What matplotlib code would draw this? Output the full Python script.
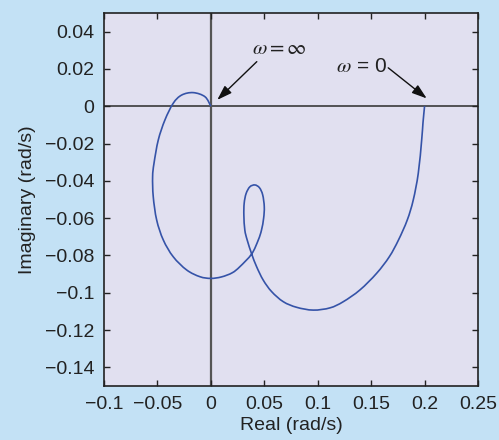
import matplotlib
matplotlib.use("Agg")
import matplotlib.pyplot as plt
from matplotlib.path import Path
from matplotlib.patches import PathPatch

plt.rcParams['font.family'] = ['Liberation Sans', 'DejaVu Sans']
plt.rcParams['mathtext.fontset'] = 'stix'

# Nyquist curve, ordered from omega=0 to omega=inf
real_part = [0.200, 0.1985, 0.1973, 0.1941, 0.1894, 0.1838, 0.1756, 0.1670, 0.1551, 0.1395,
             0.1239, 0.1115, 0.0958, 0.0803, 0.0678, 0.0569, 0.0490, 0.0428, 0.0382, 0.0340,
             0.0318, 0.0309, 0.0312, 0.033, 0.0365, 0.0412, 0.0455, 0.0485, 0.0500, 0.0494,
             0.0474, 0.0444, 0.0382, 0.0272, 0.020, 0.010, 0.000, -0.0102, -0.0226, -0.0352,
             -0.0445, -0.0507, -0.0539, -0.0545, -0.0532, -0.0492, -0.0430, -0.0352, -0.0273,
             -0.0165, -0.0055, 0.000]
imag_part = [0.000, -0.009, -0.0181, -0.0360, -0.0503, -0.0610, -0.0717, -0.0807, -0.0896, -0.0985,
             -0.1048, -0.1081, -0.1093, -0.1078, -0.1048, -0.0994, -0.0932, -0.0860, -0.0792, -0.0717,
             -0.0664, -0.0585, -0.052, -0.0468, -0.0432, -0.0422, -0.0437, -0.0475, -0.0539, -0.0600,
             -0.0664, -0.0717, -0.0792, -0.0860, -0.0893, -0.0915, -0.0923, -0.0914, -0.0878, -0.0807,
             -0.0717, -0.0610, -0.0485, -0.0378, -0.0306, -0.0181, -0.0074, 0.0016, 0.0060,
             0.0073, 0.0051, 0.000]

x_ticks = [-0.1, -0.05, 0, 0.05, 0.1, 0.15, 0.2, 0.25]
x_tick_labels = ["\u22120.1", "\u22120.05", "0", "0.05", "0.1", "0.15", "0.2", "0.25"]
y_ticks = [0.04, 0.02, 0, -0.02, -0.04, -0.06, -0.08, -0.1, -0.12, -0.14]
y_tick_labels = ["0.04", "0.02", "0", "\u22120.02", "\u22120.04", "\u22120.06", "\u22120.08",
                 "\u22120.1", "\u22120.12", "\u22120.14"]


def smooth_path(xs, ys):
    """Catmull-Rom curve through the read points, as cubic Bezier segments."""
    pts = list(zip(xs, ys))
    n = len(pts)
    verts = [pts[0]]
    codes = [Path.MOVETO]
    for i in range(n - 1):
        p0 = pts[max(i - 1, 0)]
        p1 = pts[i]
        p2 = pts[i + 1]
        p3 = pts[min(i + 2, n - 1)]
        c1 = (p1[0] + (p2[0] - p0[0]) / 6.0, p1[1] + (p2[1] - p0[1]) / 6.0)
        c2 = (p2[0] - (p3[0] - p1[0]) / 6.0, p2[1] - (p3[1] - p1[1]) / 6.0)
        verts += [c1, c2, p2]
        codes += [Path.CURVE4] * 3
    return Path(verts, codes)


fig = plt.figure(figsize=(4.99, 4.40), dpi=100, facecolor='#C3E1F5')
ax = fig.add_axes([0.2084, 0.1227, 0.7495, 0.8478])
ax.set_facecolor('#E1E0F0')

ax.axhline(0, color='#3a3a3a', lw=1.2, zorder=1)
ax.axvline(0, color='#555555', lw=1.6, zorder=1)
ax.add_patch(PathPatch(smooth_path(real_part, imag_part), fill=False,
                       edgecolor='#3553A8', lw=1.2, zorder=2))

ax.set_xlim(-0.1, 0.25)
ax.set_ylim(-0.15, 0.05)
ax.set_xticks(x_ticks)
ax.set_xticklabels(x_tick_labels)
ax.set_yticks(y_ticks)
ax.set_yticklabels(y_tick_labels)
ax.tick_params(direction='in', length=4, width=1, colors='#222222', labelsize=14,
               top=True, right=True, pad=7)
for s in ax.spines.values():
    s.set_color('#222222')
    s.set_linewidth(1.2)

ax.set_xlabel("Real (rad/s)", fontsize=14, color='#222222', labelpad=3)
ax.set_ylabel("Imaginary (rad/s)", fontsize=14, color='#222222', labelpad=6)

arrow_kw = dict(arrowstyle='-|>,head_length=0.9,head_width=0.3', color='#111111',
                lw=1.0, shrinkA=0, shrinkB=0)
ax.annotate("", xy=(0.006, 0.0034), xytext=(0.043, 0.0239), arrowprops=arrow_kw)
ax.annotate("", xy=(0.202, 0.0042), xytext=(0.166, 0.0206), arrowprops=arrow_kw)
ax.text(0.0636, 0.0312, r"$\omega = \infty$", fontsize=15, ha='center', va='center',
        color='#222222')
ax.text(0.141, 0.0215, r"$\omega$ = 0", fontsize=15, ha='center', va='center',
        color='#222222')

fig.savefig("out.png", dpi=100, facecolor=fig.get_facecolor())
